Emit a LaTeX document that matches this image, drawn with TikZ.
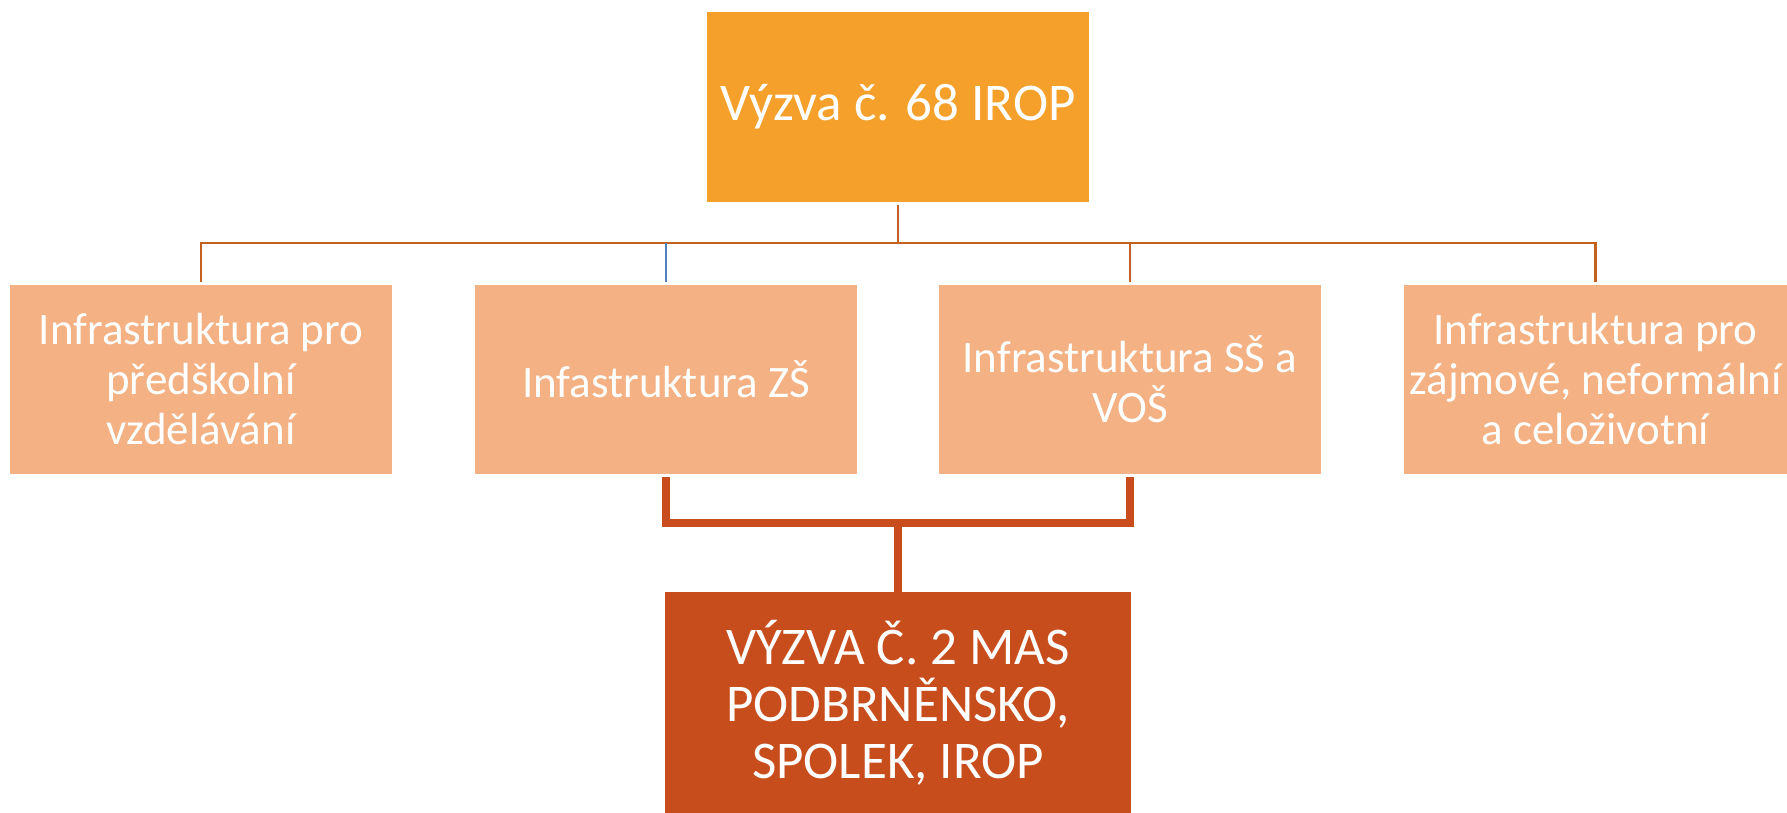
\documentclass[tikz,border=0pt]{standalone}
\usepackage{fontspec}
\setmainfont{Carlito}
\definecolor{topfill}{HTML}{F5A02A}
\definecolor{lvlfill}{HTML}{F4B183}
\definecolor{botfill}{HTML}{C84D1D}
\definecolor{thincol}{HTML}{C5611F}
\definecolor{thickcol}{HTML}{C84C1C}
\definecolor{bluecol}{HTML}{4F81BD}
\begin{document}
\begin{tikzpicture}[x=1pt,y=-1pt,
  box/.style={draw=none, inner sep=0pt, align=center, text=white, font=\fontsize{45}{50}\selectfont},
  lvl/.style={box, fill=lvlfill, minimum width=382pt, minimum height=189pt},
  thinline/.style={draw=thincol, line width=2.5pt},
  blueline/.style={draw=bluecol, line width=2.5pt},
  thickline/.style={draw=thickcol, line width=8pt}]
\useasboundingbox (0,0) rectangle (1787,812);
\fill[white] (0,0) rectangle (1787,812);
\node[box, fill=topfill, minimum width=382pt, minimum height=190pt, font=\fontsize{53}{60}\selectfont] (top) at (898,107) {Výzva č. 68 IROP};
\node[lvl] (b1) at (201,379.5) {Infrastruktura pro\\předškolní\\vzdělávání};
\node[lvl] (b2) at (666,379.5) {Infastruktura ZŠ};
\node[lvl] (b3) at (1130,379.5) {Infrastruktura SŠ a\\VOŠ};
\node[lvl, minimum width=383pt] (b4) at (1595.5,379.5) {Infrastruktura pro\\zájmové, neformální\\a celoživotní};
\node[box, fill=botfill, minimum width=466pt, minimum height=222pt, font=\fontsize{53}{57}\selectfont] (bot) at (898,703) {VÝZVA Č. 2 MAS\\PODBRNĚNSKO,\\SPOLEK, IROP};
\coordinate (bus) at (898,243);
\coordinate (brk) at (898,523);
\draw[thinline] ([yshift=-3pt]top.south) -- (bus);
\draw[thinline] ([yshift=3pt]b1.north) -- (b1.north |- bus) -- (b4.north |- bus) -- ([yshift=3pt]b4.north);
\draw[thinline] ([yshift=3pt]b3.north) -- (b3.north |- bus);
\draw[blueline] ([yshift=3pt]b2.north) -- (b2.north |- bus);
\draw[thickline] ([yshift=-3pt]b2.south) -- (b2.south |- brk) -- (b3.south |- brk) -- ([yshift=-3pt]b3.south);
\draw[thickline] (brk) -- (bot.north);
\end{tikzpicture}
\end{document}
